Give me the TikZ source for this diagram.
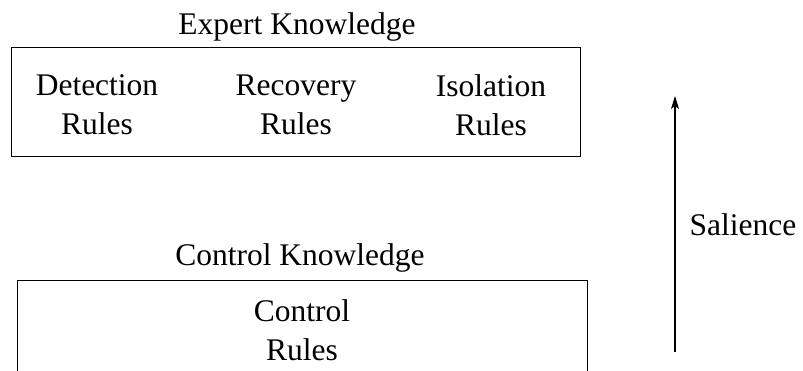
\documentclass[tikz,border=0pt]{standalone}
\usepackage{fontspec}
\setmainfont{Liberation Serif}
\usetikzlibrary{arrows.meta}
\begin{document}
\begin{tikzpicture}[x=1pt,y=-1pt,
  txt/.style={inner sep=0pt,align=center,font=\fontsize{31.5}{39}\selectfont},
  frame/.style={draw,line width=1pt,inner sep=0pt},
  axis/.style={line width=1.2pt,-{Stealth[length=13pt,width=8pt,inset=3pt]}}]
\useasboundingbox (0,0) rectangle (803,371);
\clip (0,0) rectangle (803,371);
% upper block: expert rule groups
\node[frame,minimum width=569pt,minimum height=109pt] (expert) at (295.5,102.5) {};
\node[txt] (expertlbl) at (297,27) {Expert Knowledge};
\node[txt] (detect) at (97,105) {Detection\\Rules};
\node[txt] (recover) at (296,105) {Recovery\\Rules};
\node[txt] (isolate) at (491,105) {Isolation\\Rules};
% lower block: control rules, running past the lower edge
\node[frame,minimum width=570pt,minimum height=180pt] (control) at (302,371) {};
\node[txt] (controllbl) at (300,258) {Control Knowledge};
\node[txt] (ctrlrules) at (302,330) {Control\\Rules};
% salience axis
\coordinate (sallow) at (675,352);
\coordinate (salhigh) at (675,96);
\draw[axis] (sallow) -- (salhigh);
\node[txt] (salience) at (743,225) {Salience};
\end{tikzpicture}
\end{document}
